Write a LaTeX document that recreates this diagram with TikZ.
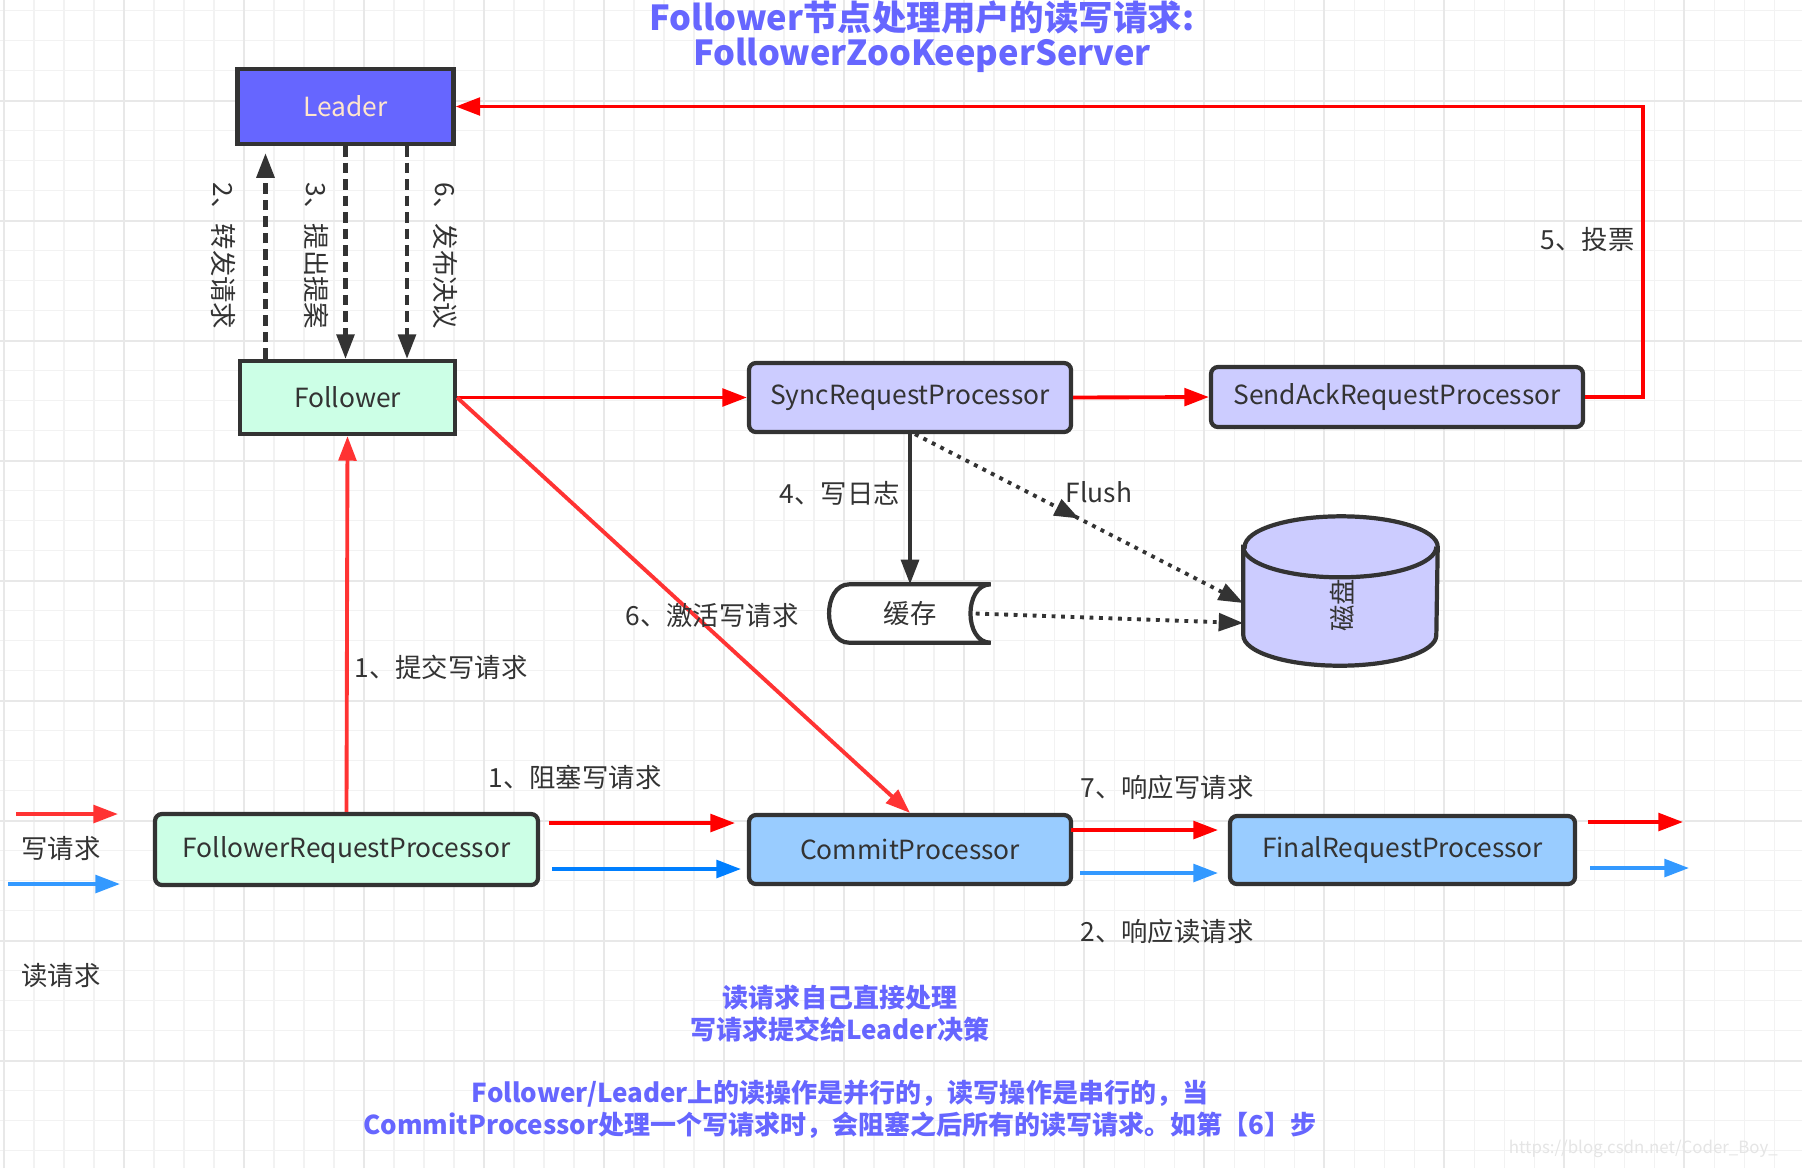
\documentclass[tikz,border=0pt]{standalone}
\usepackage{fontspec}
\setmainfont{Noto Sans CJK SC}
\usetikzlibrary{arrows.meta,decorations.markings}

\begin{document}
\begin{tikzpicture}[
  >={Triangle[length=7pt,width=5pt]},
  gridminor/.style={draw=black!5, line width=0.3pt},
  gridmajor/.style={draw=black!9, line width=0.5pt},
  plainbox/.style={draw=ink, line width=1.2pt, inner sep=0pt, text=ink,
    font=\fontsize{7.5}{9}\selectfont},
  procbox/.style={plainbox, rounded corners=2pt},
  note/.style={font=\fontsize{7.5}{9}\selectfont, text=ink},
  headline/.style={font=\fontsize{9.8}{12}\selectfont\bfseries, text=violetblue, align=center},
  remark/.style={font=\fontsize{7.4}{9}\selectfont\bfseries, text=violetblue, align=center},
  redarrow/.style={->, line width=1.1pt, draw=writered},
  lightred/.style={->, line width=1.1pt, draw=writered!80!white},
  bluearrow/.style={->, line width=1.1pt, draw=readblue},
  dasharrow/.style={->, line width=1.2pt, draw=ink, dash pattern=on 3pt off 1.7pt},
  dotline/.style={->, line width=1.1pt, draw=ink, dash pattern=on 1.1pt off 1.6pt},
  midtip/.style={postaction={decorate}, decoration={markings,
    mark=at position 0.5 with {\arrow{Triangle[length=7pt,width=5pt]}}}}
]

\definecolor{ink}{RGB}{51,51,51}
\definecolor{violetblue}{RGB}{102,102,255}
\definecolor{peach}{RGB}{255,230,204}
\definecolor{mint}{RGB}{204,255,230}
\definecolor{lilac}{RGB}{204,204,255}
\definecolor{skyblue}{RGB}{153,204,255}
\definecolor{writered}{RGB}{255,0,0}
\definecolor{readblue}{RGB}{51,153,255}
\definecolor{deepblue}{RGB}{0,127,255}

\useasboundingbox (0,0) rectangle (18.02,-11.68);
\fill[white] (0,0) rectangle (18.02,-11.68);

% background grid
\begin{scope}[shift={(0.04,0.193)}]
  \draw[gridminor, step=0.3] (-0.04,-0.193) grid (17.98,-11.873);
  \draw[gridmajor, step=1.2] (-0.04,-0.193) grid (17.98,-11.873);
\end{scope}

\node[headline] (head1) at (9.22,-0.17) {Follower节点处理用户的读写请求:};
\node[headline] (head2) at (9.22,-0.55) {FollowerZooKeeperServer};

\node[plainbox, fill=violetblue, text=peach, minimum width=2.16cm, minimum height=0.75cm]
  (leader) at (3.455,-1.065) {Leader};
\node[plainbox, fill=mint, minimum width=2.15cm, minimum height=0.73cm]
  (follower) at (3.475,-3.975) {Follower};
\node[procbox, fill=lilac, minimum width=3.22cm, minimum height=0.69cm]
  (sync) at (9.10,-3.975) {SyncRequestProcessor};
\node[procbox, fill=lilac, minimum width=3.72cm, minimum height=0.60cm]
  (sendack) at (13.97,-3.97) {SendAckRequestProcessor};
\node[procbox, fill=mint, minimum width=3.83cm, minimum height=0.71cm]
  (frp) at (3.465,-8.495) {FollowerRequestProcessor};
\node[procbox, fill=skyblue, minimum width=3.22cm, minimum height=0.69cm]
  (commit) at (9.10,-8.495) {CommitProcessor};
\node[procbox, fill=skyblue, minimum width=3.45cm, minimum height=0.68cm]
  (final) at (14.025,-8.50) {FinalRequestProcessor};

% cache
\node[note, minimum width=1.6cm, minimum height=0.57cm, inner sep=0pt]
  (cache) at (9.10,-6.135) {缓存};
\draw[draw=ink, line width=1.2pt, fill=white]
  ([xshift=2mm]cache.north west) -- (cache.north east)
  .. controls ([xshift=-2.7mm]cache.north east) and ([xshift=-2.7mm]cache.south east) .. (cache.south east)
  -- ([xshift=2mm]cache.south west)
  .. controls ([xshift=-0.7mm]cache.south west) and ([xshift=-0.7mm]cache.north west) .. cycle;
\node[note] at (cache) {缓存};

% disk
\node[minimum width=1.93cm, minimum height=1.48cm, inner sep=0pt] (disk) at (13.405,-5.91) {};
\filldraw[draw=ink, fill=lilac, line width=1.2pt]
  ([yshift=-3.05mm]disk.north west) -- ([yshift=3.05mm]disk.south west)
  arc[start angle=180, end angle=360, x radius=9.65mm, y radius=3.05mm]
  -- ([yshift=-3.05mm]disk.north east)
  arc[start angle=0, end angle=180, x radius=9.65mm, y radius=3.05mm] -- cycle;
\draw[draw=ink, line width=1.2pt] ([yshift=-3.05mm]disk.north west)
  arc[start angle=180, end angle=360, x radius=9.65mm, y radius=3.05mm];
\node[note, rotate=90] (disklabel) at (13.42,-6.05) {磁盘};

% leader <-> follower
\draw[dasharrow, shorten >=2pt] ([xshift=-8.2mm]follower.north) -- ([xshift=-8.2mm]follower.north |- leader.south);
\draw[dasharrow] (leader.south) -- (leader.south |- follower.north);
\draw[dasharrow] ([xshift=6.15mm]leader.south) -- ([xshift=6.15mm]leader.south |- follower.north);
\node[note, rotate=-90] (fwd) at (2.24,-2.56) {2、转发请求};
\node[note, rotate=-90] (propose) at (3.17,-2.56) {3、提出提案};
\node[note, rotate=-90] (decide) at (4.45,-2.56) {6、发布决议};

\draw[redarrow] (follower.east) -- (sync.west);
\draw[redarrow] (sync.east) -- (sendack.west);
\draw[redarrow] (sendack.east) -- ++(0.58,0) |- (leader.east);
\node[note, anchor=east] (vote) at (16.47,-2.39) {5、投票};

\draw[lightred] (follower.east) -- (commit.north);
\node[note] (wake) at (7.12,-6.15) {6、激活写请求};

\draw[->, line width=1.2pt, draw=ink] (sync.south) -- (cache.north);
\node[note] (wal) at (8.40,-4.93) {4、写日志};
\draw[dotline, midtip] ([xshift=0.5mm]sync.south) -- ([yshift=-1.2mm]disk.west);
\node[note] (flush) at (10.99,-4.92) {Flush};
\draw[dotline] ([xshift=-1.5mm]cache.east) -- ([yshift=-3.2mm]disk.west);

\draw[lightred] (frp.north) -- (follower.south);
\node[note] (submit) at (4.41,-6.67) {1、提交写请求};

% request flow
\coordinate (fc1) at (5.49,-8.23);  \coordinate (fc2) at (7.35,-8.23);
\coordinate (fc3) at (5.52,-8.69);  \coordinate (fc4) at (7.41,-8.69);
\draw[redarrow] (fc1) -- (fc2);
\draw[->, line width=1.1pt, draw=deepblue] (fc3) -- (fc4);
\node[note] (block) at (5.75,-7.77) {1、阻塞写请求};

\coordinate (cf1) at (10.71,-8.30); \coordinate (cf2) at (12.18,-8.30);
\coordinate (cf3) at (10.80,-8.73); \coordinate (cf4) at (12.18,-8.73);
\draw[redarrow] (cf1) -- (cf2);
\draw[bluearrow] (cf3) -- (cf4);
\node[note] (wresp) at (11.67,-7.87) {7、响应写请求};
\node[note] (rresp) at (11.67,-9.31) {2、响应读请求};

\coordinate (out1) at (15.88,-8.22); \coordinate (out2) at (16.83,-8.22);
\coordinate (out3) at (15.90,-8.68); \coordinate (out4) at (16.89,-8.68);
\draw[redarrow] (out1) -- (out2);
\draw[bluearrow] (out3) -- (out4);

% legend
\coordinate (lg1) at (0.16,-8.14); \coordinate (lg2) at (1.18,-8.14);
\coordinate (lg3) at (0.08,-8.84); \coordinate (lg4) at (1.20,-8.84);
\draw[lightred] (lg1) -- (lg2);
\draw[bluearrow] (lg3) -- (lg4);
\node[note] (wlegend) at (0.61,-8.48) {写请求};
\node[note] (rlegend) at (0.61,-9.76) {读请求};

\node[remark] (sum1) at (8.40,-10.135) {读请求自己直接处理\\写请求提交给Leader决策};
\node[remark] (sum2) at (8.40,-11.09)
  {Follower/Leader上的读操作是并行的，读写操作是串行的，当\\
   CommitProcessor处理一个写请求时，会阻塞之后所有的读写请求。如第【6】步};

\node[font=\fontsize{4.8}{6}\selectfont, text=black!10, anchor=east, inner sep=1pt] (mark) at (17.82,-11.49)
  {https://blog.csdn.net/Coder\_Boy\_};

\end{tikzpicture}
\end{document}
